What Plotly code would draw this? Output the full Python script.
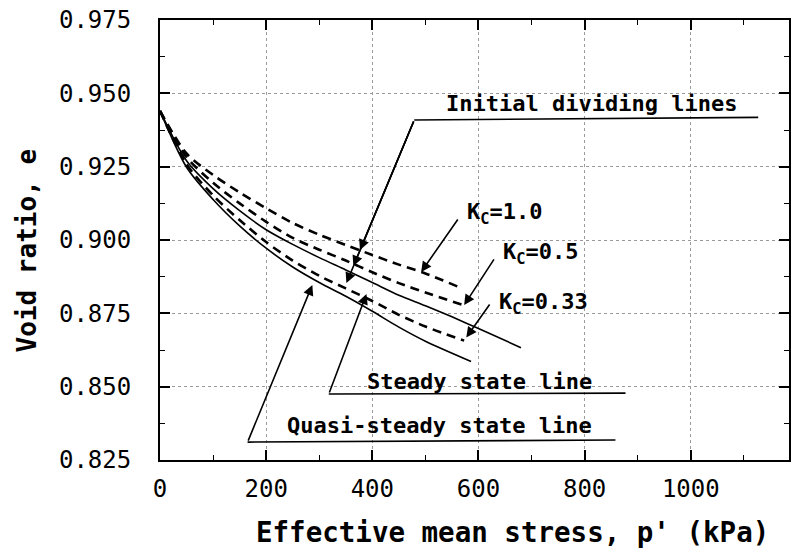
import plotly.graph_objects as go

# Effective mean stress p' (kPa) and void ratio e for each curve
p_kc10 = [0, 50, 100, 150, 200, 250, 300, 350, 400, 450, 500, 560]
e_kc10 = [0.944, 0.9295, 0.9222, 0.9162, 0.9108, 0.9058, 0.9018, 0.8983, 0.8949, 0.8916, 0.8886, 0.8842]

p_kc05 = [0, 50, 100, 150, 200, 250, 300, 350, 400, 450, 500, 573]
e_kc05 = [0.944, 0.9283, 0.9195, 0.9125, 0.9062, 0.9007, 0.8967, 0.8930, 0.8890, 0.8853, 0.8821, 0.8777]

p_ssl = [0, 50, 100, 150, 200, 250, 300, 350, 400, 450, 500, 550, 600, 680]
e_ssl = [0.944, 0.9270, 0.9175, 0.9100, 0.9035, 0.8985, 0.8940, 0.8898, 0.8855, 0.8812, 0.8776, 0.8738, 0.8698, 0.8633]

p_kc033 = [0, 50, 100, 150, 200, 250, 300, 350, 400, 450, 500, 573]
e_kc033 = [0.944, 0.9258, 0.9152, 0.9068, 0.8993, 0.8930, 0.8878, 0.8835, 0.8792, 0.8745, 0.8705, 0.8657]

p_qssl = [0, 50, 100, 150, 200, 250, 300, 350, 400, 450, 500, 586]
e_qssl = [0.944, 0.9248, 0.9138, 0.9048, 0.8972, 0.8908, 0.8855, 0.8808, 0.8757, 0.8703, 0.8655, 0.8586]

x_ticks = [0, 200, 400, 600, 800, 1000]
y_ticks = [0.825, 0.850, 0.875, 0.900, 0.925, 0.950, 0.975]
y_ticktext = ["0.825", "0.850", "0.875", "0.900", "0.925", "0.950", "0.975"]

FONT = "DejaVu Sans Mono"
DASH = "9px,6px"

fig = go.Figure()

def add_curve(x, y, dashed):
    fig.add_trace(go.Scatter(
        x=x, y=y, mode="lines", line_shape="spline",
        line=dict(color="black", width=2.6 if dashed else 1.6,
                  dash=DASH if dashed else "solid", smoothing=0.8),
        showlegend=False, hoverinfo="skip"))

add_curve(p_kc10, e_kc10, True)
add_curve(p_kc05, e_kc05, True)
add_curve(p_ssl, e_ssl, False)
add_curve(p_kc033, e_kc033, True)
add_curve(p_qssl, e_qssl, False)

def arrow(tail, head):
    fig.add_annotation(x=head[0], y=head[1], ax=tail[0], ay=tail[1],
                       xref="x", yref="y", axref="x", ayref="y",
                       text="", showarrow=True, arrowhead=2, arrowsize=1.3,
                       arrowwidth=1.6, arrowcolor="black")

def label(x, y, text, anchor="left", size=22):
    fig.add_annotation(x=x, y=y, xref="x", yref="y", text=text, showarrow=False,
                       xanchor=anchor, yanchor="middle",
                       font=dict(family=FONT, size=size, color="black"))

def underline(x0, x1, y0, y1):
    fig.add_shape(type="line", x0=x0, x1=x1, y0=y0, y1=y1, xref="x", yref="y",
                  line=dict(color="black", width=1.6))

# Initial dividing lines: one leader line with a head on each dashed curve
label(812, 0.9465, "<b>Initial dividing lines</b>", anchor="center")
underline(479, 1127, 0.9409, 0.9418)
arrow((479, 0.9409), (376.7, 0.8966))
arrow((479, 0.9409), (364.3, 0.8911))
arrow((479, 0.9409), (351.2, 0.8853))

# K_C labels
label(575, 0.9090, "<b>K<sub>C</sub>=1.0</b>")
arrow((563, 0.9075), (492, 0.8891))
label(642, 0.8955, "<b>K<sub>C</sub>=0.5</b>")
arrow((631, 0.8939), (573, 0.8778))
label(635, 0.8785, "<b>K<sub>C</sub>=0.33</b>")
arrow((623, 0.8785), (577, 0.8668))

# Steady state line
label(601, 0.8519, "<b>Steady state line</b>", anchor="center")
underline(318, 877, 0.8475, 0.8478)
arrow((318, 0.8475), (389, 0.8816))

# Quasi-steady state line
label(526, 0.8366, "<b>Quasi-steady state line</b>", anchor="center")
underline(165, 858, 0.8311, 0.8318)
arrow((165, 0.8311), (287, 0.8847))

# Axis titles
fig.add_annotation(x=0.561, y=0, xref="paper", yref="paper", yshift=-72,
                   text="<b>Effective mean stress, p' (kPa)</b>", showarrow=False,
                   xanchor="center", yanchor="middle",
                   font=dict(family=FONT, size=27.5, color="black"))
fig.add_annotation(x=-0.2108, y=0.4773, xref="paper", yref="paper",
                   text="<b>Void ratio, e</b>", showarrow=False, textangle=-90,
                   xanchor="center", yanchor="middle",
                   font=dict(family=FONT, size=26, color="black"))

axis_common = dict(
    showline=True, linecolor="black", linewidth=2, mirror="allticks",
    ticks="inside", ticklen=10, tickwidth=1.6, tickcolor="black",
    showgrid=True, gridcolor="#9a9a9a", griddash="dot", gridwidth=1,
    zeroline=False,
    tickfont=dict(family=FONT, size=24, color="black"),
)

fig.update_xaxes(
    range=[0, 1185], tickvals=x_ticks,
    minor=dict(dtick=100, tick0=0, ticks="inside", ticklen=5, tickwidth=1.4,
               tickcolor="black", showgrid=False),
    ticklabelstandoff=6,
    **axis_common)

fig.update_yaxes(
    range=[0.825, 0.975], tickvals=y_ticks, ticktext=y_ticktext,
    minor=dict(dtick=0.0125, tick0=0.825, ticks="inside", ticklen=5, tickwidth=1.4,
               tickcolor="black", showgrid=False),
    ticklabelstandoff=22,
    **axis_common)

fig.update_layout(
    width=791, height=549,
    margin=dict(l=160, r=0, t=20, b=89),
    paper_bgcolor="white", plot_bgcolor="white",
    showlegend=False,
)

fig.write_html("out.html")
